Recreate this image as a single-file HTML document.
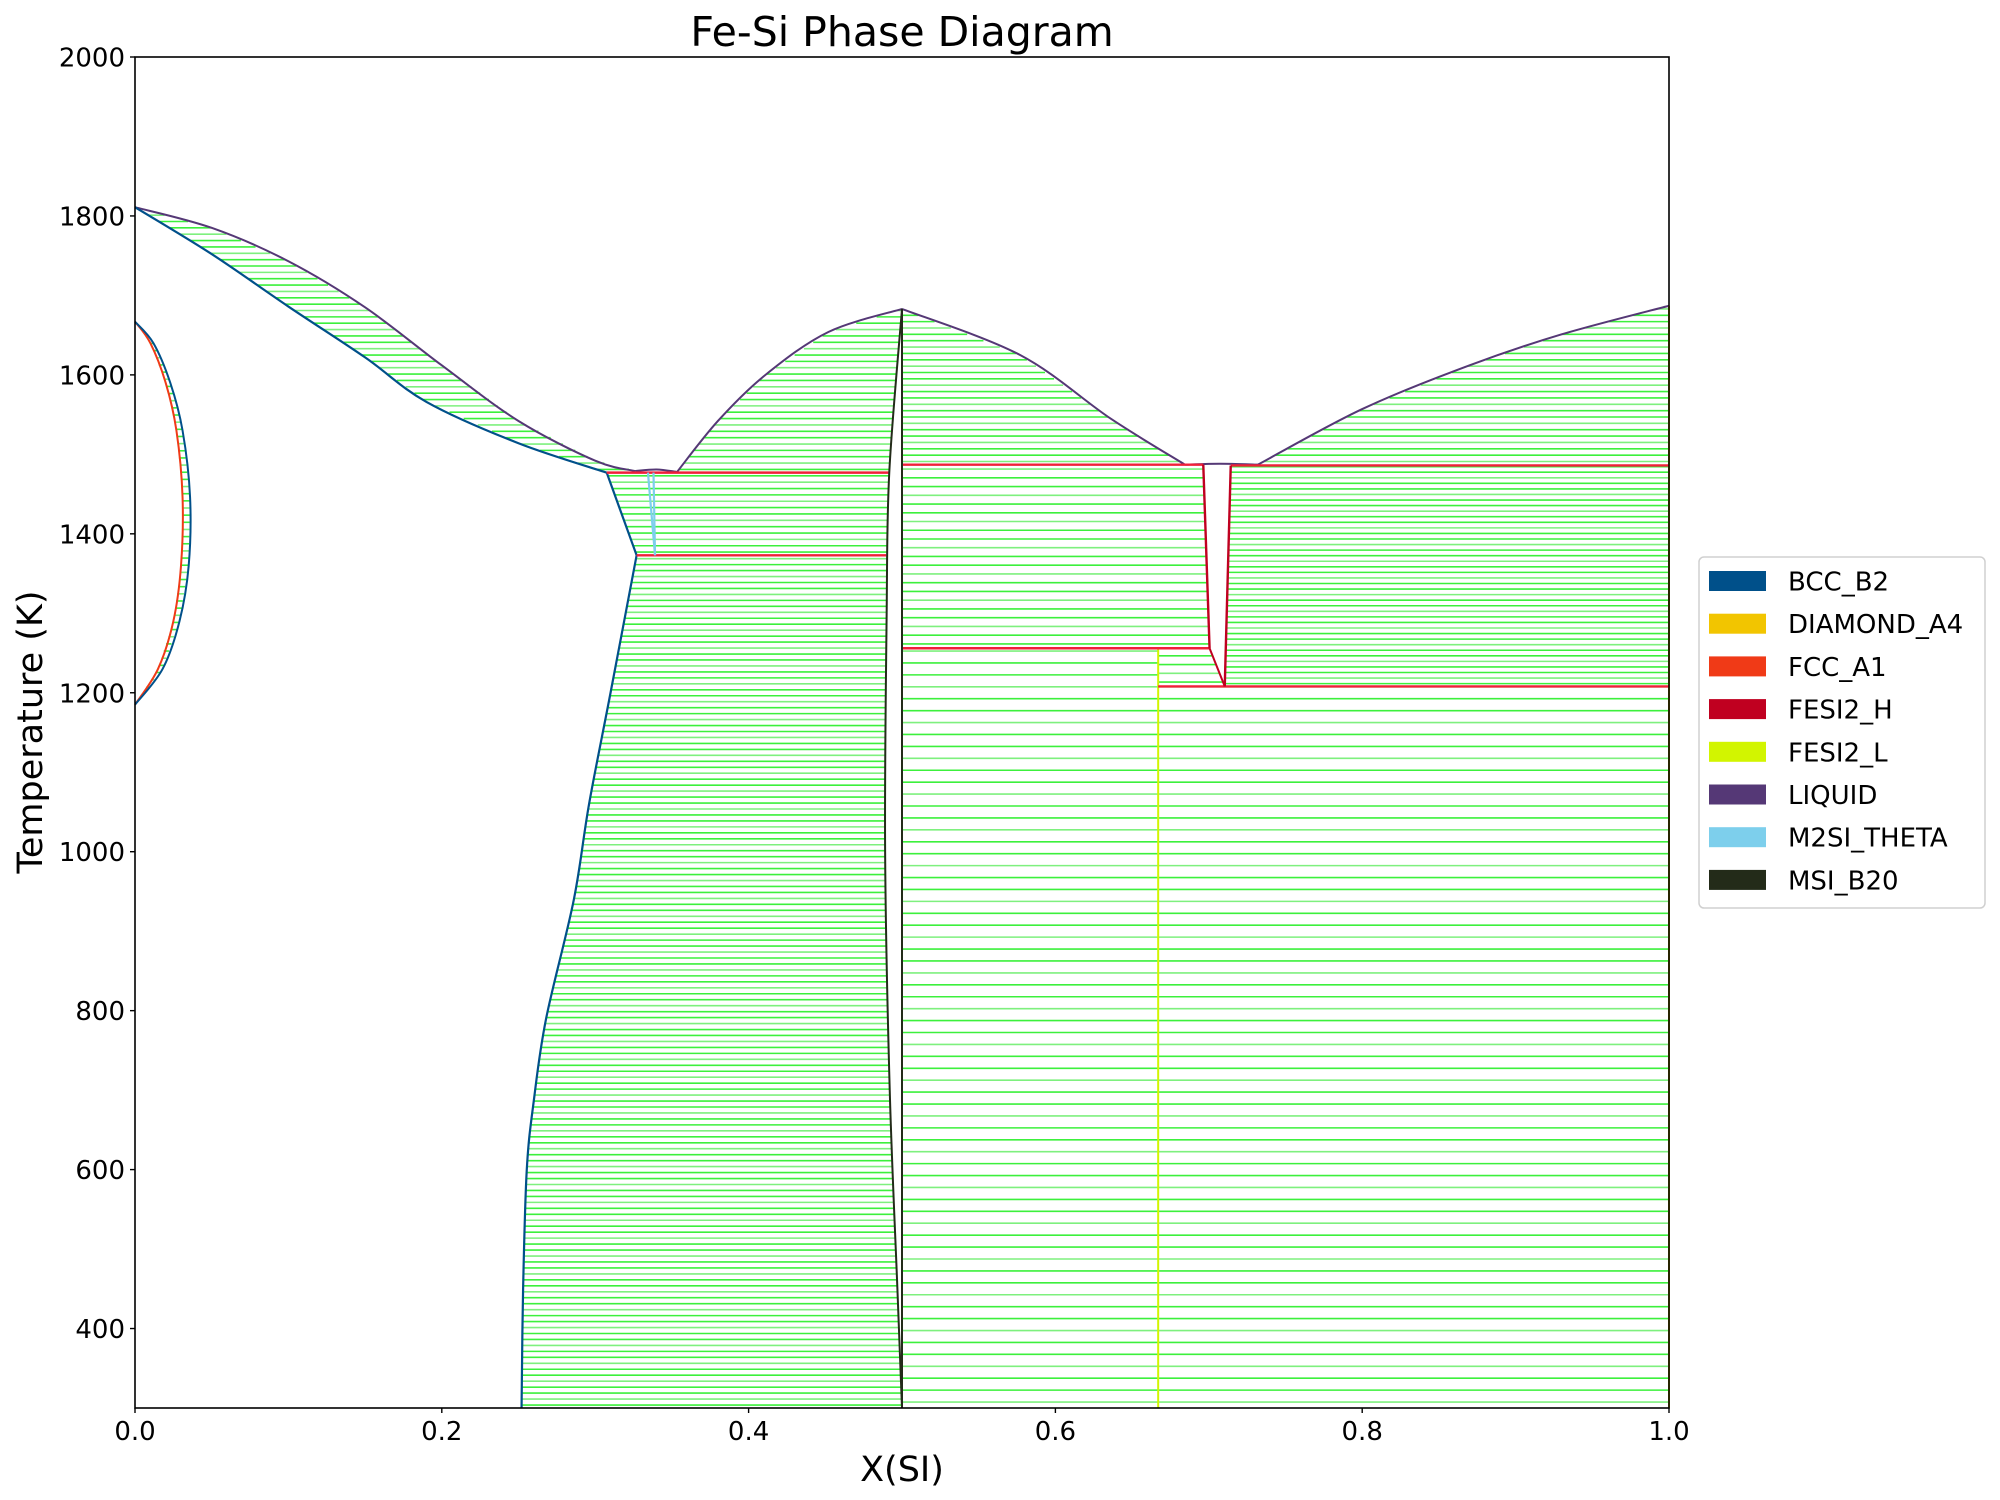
<!DOCTYPE html>
<html><head><meta charset="utf-8"><style>
body{margin:0;background:#fff}
svg{display:block;font-family:"DejaVu Sans","Liberation Sans",sans-serif}
</style></head><body>
<svg id="chart" width="2000" height="1500" viewBox="0 0 2000 1500">
<rect width="2000" height="1500" fill="#fff"/>
<g id="ties"></g>
<g id="bounds"></g>
<rect x="135" y="57" width="1534" height="1351" fill="none" stroke="#000" stroke-width="1.6"/>
<g id="axes"></g>
<text x="902" y="46" font-size="41" text-anchor="middle">Fe-Si Phase Diagram</text>
<text x="902" y="1481" font-size="35" text-anchor="middle">X(SI)</text>
<text transform="translate(42,732) rotate(-90)" font-size="35" text-anchor="middle">Temperature (K)</text>
<g>
<rect x="1699" y="557" width="286" height="351" rx="5" fill="#fff" stroke="#d0d0d0" stroke-width="1.5"/>
<g id="legend"></g>
</g>
</svg>
<script>
// ---- data ----
const xTicks=[0.0,0.2,0.4,0.6,0.8,1.0];
const xTickLabels=["0.0","0.2","0.4","0.6","0.8","1.0"];
const yTicks=[400,600,800,1000,1200,1400,1600,1800,2000];
const yTickLabels=["400","600","800","1000","1200","1400","1600","1800","2000"];
const phaseNames=["BCC_B2","DIAMOND_A4","FCC_A1","FESI2_H","FESI2_L","LIQUID","M2SI_THETA","MSI_B20"];
const phaseColors=["#00508a","#f2c500","#f03a17","#c00020","#d2f500","#553876","#7dcfec","#232b19"];
// boundaries [x, T]
const liqLeft=[[0,1811],[0.05,1785],[0.1,1743],[0.15,1685],[0.2,1612],[0.25,1542],[0.3,1492],[0.326,1479]];
const solLeft=[[0,1811],[0.05,1752],[0.1,1686],[0.15,1622],[0.19,1566],[0.25,1514],[0.3075,1477]];
const fccLoop=[[0,1667],[0.01,1640],[0.02,1590],[0.027,1530],[0.031,1446],[0.03,1360],[0.025,1290],[0.015,1230],[0,1185]];
const bccLoop=[[0,1667],[0.012,1640],[0.023,1590],[0.031,1530],[0.0359,1446],[0.035,1360],[0.029,1290],[0.018,1230],[0,1185]];
const bccSolvus=[[0.3075,1477],[0.327,1373],[0.31,1200],[0.296,1060],[0.286,939],[0.268,790],[0.26,687],[0.2554,600],[0.253,450],[0.252,300]];
const liqBump=[[0.326,1479],[0.34,1481],[0.353,1478]];
const m2siLeft=[[0.3344,1477],[0.339,1373]];
const m2siRight=[[0.338,1477],[0.339,1373]];
const fesiLeft=[[0.5,1683],[0.4917,1477],[0.49,1300],[0.489,1000],[0.492,700],[0.497,450],[0.5,300]];
const fesiRight=[[0.5,1683],[0.5,300]];
const domeLeft=[[0.353,1477],[0.38,1542],[0.411,1600],[0.452,1654],[0.5,1683]];
const domeRight=[[0.5,1683],[0.577,1625],[0.636,1545],[0.6845,1487]];
const fesi2hLeft=[[0.6964,1487],[0.7005,1256]];
const fesi2hRight=[[0.7143,1486],[0.7104,1208]];
const fesi2hSlant=[[0.7005,1256],[0.7104,1208]];
const liqRight=[[0.732,1487],[0.8,1557],[0.87,1612],[0.93,1651],[1.0,1687]];
const fesi2lLine=[[0.667,1256],[0.667,300]];
const siLine=[[1.0,1687],[1.0,300]];
const redLines=[[0.3075,0.4917,1477],[0.327,0.4897,1373],[0.5,0.6964,1487],[0.7143,1.0,1486],[0.5,0.7005,1256],[0.667,1.0,1208]];
const liqTop=[[0.6845,1487],[0.7,1488],[0.715,1488],[0.732,1487]];

// ---- scales ----
const X=x=>135+1534*x, Y=t=>1408-(t-300)*1351/1700;
const NS="http://www.w3.org/2000/svg";
function mk(tag,attrs,parent){const e=document.createElementNS(NS,tag);for(const k in attrs)e.setAttribute(k,attrs[k]);parent.appendChild(e);return e;}
function xAt(pts,T){for(let i=0;i<pts.length-1;i++){const a=pts[i],b=pts[i+1];const lo=Math.min(a[1],b[1]),hi=Math.max(a[1],b[1]);if(T>=lo&&T<=hi){if(hi===lo)return a[0];return a[0]+(b[0]-a[0])*(T-a[1])/(b[1]-a[1]);}}return null;}
const ties=document.getElementById('ties');
function hatch(L,R,t0,t1,step){
 for(let T=t0+step/2;T<t1;T+=step){const a=xAt(L,T),b=xAt(R,T);if(a===null||b===null)continue;
  const ln=mk('line',{x1:X(a),x2:X(b),y1:Y(T),y2:Y(T),stroke:(Math.round(T/step)%3===0)?'#7ef07e':'#3cf03c','stroke-width':1.6},ties);
  
  }
}
hatch(solLeft,liqLeft,1477,1811,8);
hatch(fccLoop,bccLoop,1185,1667,9);
hatch([[0.3075,1477],[0.327,1373]],fesiLeft,1373,1477,8);
hatch(bccSolvus,fesiLeft,300,1373,7.5);
hatch(domeLeft,fesiLeft,1477,1683,8);
hatch(fesiRight,domeRight,1487,1683,8);
hatch(fesiRight,fesi2hLeft,1256,1487,11);
hatch(fesiRight,fesi2lLine,300,1256,15);
hatch(fesi2lLine,fesi2hSlant,1208,1256,11);
hatch(fesi2hRight,siLine,1208,1486,7);
hatch(fesi2lLine,siLine,300,1208,15);
hatch(liqRight,siLine,1487,1687,8);

const bounds=document.getElementById('bounds');
function smoothD(pts){const P=pts.map(q=>[X(q[0]),Y(q[1])]);let d='M'+P[0][0]+','+P[0][1];
 for(let i=0;i<P.length-1;i++){const p0=P[Math.max(0,i-1)],p1=P[i],p2=P[i+1],p3=P[Math.min(P.length-1,i+2)];
  const c1=[p1[0]+(p2[0]-p0[0])/6,p1[1]+(p2[1]-p0[1])/6],c2=[p2[0]-(p3[0]-p1[0])/6,p2[1]-(p3[1]-p1[1])/6];
  d+=' C'+c1[0]+','+c1[1]+' '+c2[0]+','+c2[1]+' '+p2[0]+','+p2[1];}
 return d;}
function poly(pts,color,w,name,smooth){let p;
 if(smooth){p=mk('path',{d:smoothD(pts),fill:'none',stroke:color,'stroke-width':w,'stroke-linejoin':'round'},bounds);}
 else{p=mk('polyline',{points:pts.map(q=>X(q[0])+','+Y(q[1])).join(' '),fill:'none',stroke:color,'stroke-width':w,'stroke-linejoin':'round'},bounds);}
 
 }
poly(liqLeft,phaseColors[5],2,'liquidus-fe-side',true);
poly(solLeft,phaseColors[0],2.2,'bcc-solidus',true);
poly(fccLoop,phaseColors[2],2,'fcc-gamma-loop',true);
poly(bccLoop,phaseColors[0],2,'bcc-gamma-loop',true);
poly(bccSolvus.slice(0,2),phaseColors[0],2.2,'bcc-boundary-upper',false);
poly(bccSolvus.slice(1),phaseColors[0],2.2,'bcc-solvus',true);
poly(liqBump,phaseColors[5],2,'liquid-bump',true);
poly(domeLeft,phaseColors[5],2,'liquidus-dome-left',true);
poly(domeRight,phaseColors[5],2,'liquidus-dome-right',true);
poly(liqTop,phaseColors[5],2,'liquid-fesi2-top',true);
poly(liqRight,phaseColors[5],2,'liquidus-si-side',true);
poly(fesi2lLine,phaseColors[4],2,'fesi2-l-line',false);
poly(siLine,'#c8b400',2,'diamond-line',false);
redLines.forEach(r=>{const l=mk('line',{x1:X(r[0]),x2:X(r[1]),y1:Y(r[2]),y2:Y(r[2]),stroke:'#f0203a','stroke-width':2.4},bounds);
 
 });
poly(fesi2hLeft,phaseColors[3],2.4,'fesi2-h-left',false);
poly(fesi2hRight,phaseColors[3],2.4,'fesi2-h-right',false);
poly(fesi2hSlant,phaseColors[3],2,'fesi2-h-slant',false);
poly(m2siLeft,phaseColors[6],2.2,'m2si-left',false);
poly(m2siRight,phaseColors[6],2.2,'m2si-right',false);
poly(fesiLeft,phaseColors[7],2,'msi-b20-left',true);
poly(fesiRight,phaseColors[7],2,'msi-b20-right',false);

const axes=document.getElementById('axes');
xTicks.forEach((v,i)=>{const t=mk('line',{x1:X(v),x2:X(v),y1:1408,y2:1413,stroke:'#000','stroke-width':1.4},axes);
 
 
 const s=mk('text',{x:X(v),y:1440,'font-size':26,'text-anchor':'middle'},axes);s.textContent=xTickLabels[i];
 
 });
yTicks.forEach((v,i)=>{const t=mk('line',{x1:130,x2:135,y1:Y(v),y2:Y(v),stroke:'#000','stroke-width':1.4},axes);
 
 
 const s=mk('text',{x:125,y:Y(v)+9.5,'font-size':26,'text-anchor':'end'},axes);s.textContent=yTickLabels[i];
 
 });
const lg=document.getElementById('legend');
phaseNames.forEach((n,i)=>{const y=581+i*42.7;
 const r=mk('rect',{x:1709,y:y-10,width:57,height:20,fill:phaseColors[i]},lg);
 
 
 const s=mk('text',{x:1788,y:y+9.5,'font-size':26},lg);s.textContent=n;
 
 });
</script>
</body></html>
